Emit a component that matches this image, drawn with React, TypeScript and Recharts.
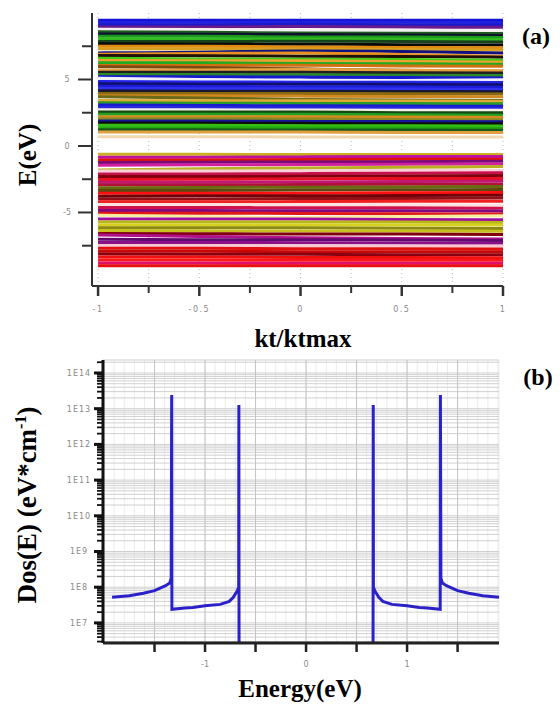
import React from 'react';
import { LineChart, Line, XAxis, YAxis, CartesianGrid, ReferenceLine } from 'recharts';

// ---- panel (a): band structure ----
const kPoints = [-1, -0.5, 0, 0.5, 1];
const kTicks = [-1, -0.75, -0.5, -0.25, 0, 0.25, 0.5, 0.75, 1];
const energyTicks = [-7.5, -5, -2.5, 0, 2.5, 5, 7.5];

// energies (eV) at kPoints, top to bottom
const conductionBands: number[][] = [
  [9.45, 9.45, 9.45, 9.45, 9.45],
  [9.28, 9.3, 9.3, 9.3, 9.28],
  [9.12, 9.12, 9.15, 9.12, 9.1],
  [8.95, 8.95, 8.98, 8.95, 8.92],
  [8.78, 8.75, 8.72, 8.7, 8.65],
  [8.6, 8.55, 8.5, 8.48, 8.45],
  [8.42, 8.4, 8.38, 8.35, 8.3],
  [8.25, 8.25, 8.2, 8.2, 8.15],
  [8.05, 8.05, 8.05, 8.02, 8.0],
  [7.85, 7.85, 7.88, 7.85, 7.82],
  [7.68, 7.65, 7.65, 7.62, 7.6],
  [7.5, 7.5, 7.45, 7.4, 7.38],
  [7.32, 7.3, 7.3, 7.25, 7.22],
  [7.0, 7.05, 7.15, 7.1, 7.0],
  [6.9, 6.95, 7.0, 6.88, 6.75],
  [6.8, 6.78, 6.75, 6.72, 6.68],
  [6.6, 6.55, 6.52, 6.5, 6.45],
  [6.42, 6.4, 6.4, 6.35, 6.3],
  [6.25, 6.25, 6.2, 6.18, 6.15],
  [6.05, 6.05, 6.08, 6.02, 6.0],
  [5.95, 5.9, 5.8, 5.7, 5.62],
  [5.7, 5.72, 5.75, 5.7, 5.65],
  [5.55, 5.55, 5.55, 5.5, 5.48],
  [5.38, 5.38, 5.35, 5.32, 5.3],
  [5.2, 5.2, 5.18, 5.15, 5.12],
  [5.1, 5.0, 4.9, 4.92, 4.98],
  [4.85, 4.82, 4.8, 4.8, 4.78],
  [4.68, 4.65, 4.65, 4.62, 4.6],
  [4.5, 4.48, 4.45, 4.45, 4.42],
  [4.32, 4.3, 4.3, 4.28, 4.25],
  [4.15, 4.12, 4.12, 4.1, 4.08],
  [3.95, 3.95, 3.95, 3.92, 3.9],
  [3.78, 3.78, 3.75, 3.72, 3.7],
  [3.7, 3.6, 3.5, 3.45, 3.42],
  [3.42, 3.4, 3.4, 3.38, 3.35],
  [3.25, 3.22, 3.2, 3.2, 3.18],
  [3.08, 3.05, 3.02, 3.0, 2.98],
  [2.9, 2.88, 2.85, 2.85, 2.82],
  [2.72, 2.72, 2.7, 2.68, 2.68],
  [2.55, 2.55, 2.55, 2.5, 2.5],
  [2.38, 2.38, 2.38, 2.35, 2.32],
  [2.2, 2.2, 2.2, 2.18, 2.15],
  [2.05, 2.05, 2.03, 2.0, 1.98],
  [1.88, 1.88, 1.85, 1.85, 1.82],
  [1.72, 1.72, 1.7, 1.68, 1.68],
  [1.55, 1.55, 1.52, 1.52, 1.5],
  [1.38, 1.38, 1.35, 1.35, 1.32],
  [1.22, 1.22, 1.2, 1.2, 1.18],
  [1.05, 1.05, 1.05, 1.02, 1.02],
  [0.7, 0.7, 0.68, 0.68, 0.68],
];
const conductionColors = [
  '#1414d8', '#2020e0', '#1a1acc', '#6a1a8a', '#f4f0f0', '#1f5a20', '#101030', '#1a9a1a',
  '#33bb22', '#16441a', '#0a0a0a', '#e08a10', '#d8a020', '#101080', '#e89020', '#201008',
  '#44cc11', '#f0a030', '#22aa22', '#d07010', '#7a4a10', '#e8a040', '#202020', '#2a8a2a',
  '#1818d0', '#f0f0ff', '#2222e8', '#10106a', '#1c1cd8', '#3030f0', '#181830', '#8a6a10',
  '#d08820', '#6a6a18', '#e0a830', '#2a9a2a', '#1a1ad0', '#2828e0', '#f8f0e8', '#124a12',
  '#22a022', '#d88a20', '#8a8a20', '#14149a', '#0c0c0c', '#33c010', '#22aa11', '#1a5a1a',
  '#e0a040', '#f2d8b0',
];

const valenceBands: number[][] = [
  [-0.62, -0.62, -0.65, -0.65, -0.65],
  [-0.85, -0.85, -0.82, -0.8, -0.8],
  [-1.05, -1.05, -1.02, -1.0, -1.0],
  [-1.25, -1.22, -1.2, -1.18, -1.15],
  [-1.45, -1.42, -1.4, -1.38, -1.35],
  [-1.8, -1.72, -1.65, -1.6, -1.55],
  [-1.88, -1.88, -1.88, -1.85, -1.85],
  [-2.1, -2.1, -2.08, -2.05, -2.02],
  [-2.3, -2.3, -2.28, -2.25, -2.22],
  [-2.52, -2.5, -2.48, -2.45, -2.45],
  [-2.72, -2.72, -2.7, -2.68, -2.65],
  [-2.92, -2.92, -2.9, -2.88, -2.88],
  [-3.15, -3.12, -3.1, -3.08, -3.05],
  [-3.35, -3.35, -3.32, -3.3, -3.28],
  [-3.55, -3.55, -3.55, -3.52, -3.5],
  [-3.78, -3.75, -3.75, -3.72, -3.7],
  [-3.98, -3.98, -3.95, -3.95, -3.92],
  [-4.2, -4.2, -4.18, -4.15, -4.15],
  [-4.4, -4.4, -4.42, -4.42, -4.45],
  [-4.62, -4.62, -4.65, -4.65, -4.68],
  [-4.85, -4.85, -4.88, -4.88, -4.9],
  [-5.05, -5.05, -5.08, -5.1, -5.12],
  [-5.2, -5.3, -5.38, -5.3, -5.25],
  [-5.5, -5.5, -5.5, -5.52, -5.55],
  [-5.72, -5.72, -5.72, -5.72, -5.75],
  [-5.95, -5.95, -5.95, -5.95, -5.95],
  [-6.15, -6.15, -6.15, -6.18, -6.2],
  [-6.35, -6.38, -6.4, -6.4, -6.42],
  [-6.58, -6.6, -6.62, -6.62, -6.65],
  [-6.7, -6.8, -6.9, -6.95, -7.0],
  [-7.02, -7.05, -7.05, -7.08, -7.1],
  [-7.25, -7.25, -7.28, -7.3, -7.32],
  [-7.48, -7.48, -7.5, -7.52, -7.52],
  [-7.7, -7.7, -7.72, -7.72, -7.75],
  [-7.92, -7.92, -7.95, -7.95, -7.95],
  [-8.12, -8.15, -8.15, -8.18, -8.18],
  [-8.35, -8.35, -8.38, -8.38, -8.4],
  [-8.58, -8.58, -8.6, -8.6, -8.6],
  [-8.8, -8.8, -8.82, -8.82, -8.82],
  [-9.0, -9.0, -9.0, -9.0, -9.0],
];
const valenceColors = [
  '#c8b020', '#c010a0', '#e01010', '#7a0a7a', '#d020a0', '#b8b020', '#f8d0d8', '#c8104a',
  '#800010', '#e81020', '#c01878', '#b0103a', '#6a6a10', '#5a4a10', '#ff1010', '#700008',
  '#901018', '#f02020', '#fce0e0', '#d0104a', '#800880', '#e01818', '#f4f0a0', '#a010a0',
  '#b8b818', '#d8d020', '#8a8a10', '#c8c020', '#800010', '#b0108a', '#600a70', '#8a108a',
  '#f8c8d0', '#e01010', '#c80808', '#8a0010', '#f01010', '#ff1818', '#e0106a', '#e81010',
];

// ---- panel (b): density of states ----
const dosEnergy = [
  -1.92, -1.75, -1.61, -1.5, -1.45, -1.39, -1.35, -1.335, -1.33, -1.328,
  -1.2, -1.12, -1.0, -0.85, -0.76, -0.72, -0.68, -0.667, -0.665, -0.663,
  0.663, 0.665, 0.667, 0.68, 0.72, 0.76, 0.85, 1.0, 1.12, 1.2,
  1.328, 1.33, 1.335, 1.35, 1.39, 1.45, 1.5, 1.61, 1.75, 1.91,
];
const dosValue = [
  5.2e7, 5.8e7, 6.8e7, 8.0e7, 9.3e7, 1.1e8, 1.3e8, 1.8e8, 2.4e13, 2.4e7,
  2.6e7, 2.7e7, 3.0e7, 3.3e7, 4.0e7, 5.2e7, 8.0e7, 1.0e8, 1.26e13, 1e5,
  1e5, 1.26e13, 1.0e8, 8.0e7, 5.2e7, 4.0e7, 3.3e7, 3.0e7, 2.7e7, 2.6e7,
  2.4e7, 2.4e13, 1.8e8, 1.3e8, 1.1e8, 9.3e7, 8.0e7, 6.8e7, 5.8e7, 5.2e7,
];
const dosDecades = [6, 7, 8, 9, 10, 11, 12, 13, 14];
const dosDomain = [2.735e6, 2.31e14];
const dosMajorEnergy = [-1.5, -1, -0.5, 0, 0.5, 1, 1.5];
const dosEnergyLabels = [-1, 0, 1];

const bandRows = kPoints.map((k, i) => {
  const row: Record<string, number> = { k };
  conductionBands.forEach((b, j) => (row['c' + j] = b[i]));
  valenceBands.forEach((b, j) => (row['v' + j] = b[i]));
  return row;
});

const dosRows = dosEnergy.map((e, i) => ({ e, dos: dosValue[i] }));

const dosYTicks: number[] = [];
dosDecades.forEach((d) => {
  for (let m = 1; m <= 9; m++) {
    const v = m * Math.pow(10, d);
    if (v >= dosDomain[0] && v <= dosDomain[1]) dosYTicks.push(v);
  }
});
const dosXTicks = Array.from({ length: 40 }, (_, i) => Math.round((-2 + i * 0.1) * 10) / 10);

// axis geometry (px inside each chart svg)
const A_LEFT = 92;
const A_BOTTOM = 286;
const B_LEFT = 103;
const B_BOTTOM = 303;

const SERIF = '"Liberation Serif", Tinos, "Times New Roman", Times, serif';
const tickFont = { fontFamily: 'DejaVu Sans, sans-serif', fontSize: 8, fill: '#8a8a8a' };

const BandYTick = (p: any) => {
  const v = p.payload.value;
  const major = v % 5 === 0;
  return (
    <g>
      <line x1={A_LEFT - (major ? 14 : 10)} x2={A_LEFT} y1={p.y} y2={p.y} stroke="#333" strokeWidth={2} />
      {major && (
        <text x={A_LEFT - 25} y={p.y + 3} textAnchor="middle" {...tickFont}>
          {String(v)}
        </text>
      )}
    </g>
  );
};

const BandXTick = (p: any) => {
  const v = p.payload.value;
  const major = Math.abs(v * 2 - Math.round(v * 2)) < 1e-9;
  return (
    <g>
      <line x1={p.x} x2={p.x} y1={A_BOTTOM} y2={A_BOTTOM + (major ? 10 : 7)} stroke="#333" strokeWidth={major ? 2.5 : 2} />
      {major && (
        <text x={p.x} y={A_BOTTOM + 26} textAnchor="middle" letterSpacing={1.5} {...tickFont}>
          {String(v)}
        </text>
      )}
    </g>
  );
};

const DosYTick = (p: any) => {
  const v = p.payload.value;
  const lg = Math.log10(v);
  const major = Math.abs(lg - Math.round(lg)) < 1e-6;
  return (
    <g>
      <line x1={B_LEFT - (major ? 9 : 6)} x2={B_LEFT} y1={p.y} y2={p.y} stroke="#111" strokeWidth={major ? 3 : 1.8} />
      {major && (
        <text x={B_LEFT - 24} y={p.y + 3} textAnchor="middle" letterSpacing={1} {...tickFont}>
          {'1E' + Math.round(lg)}
        </text>
      )}
    </g>
  );
};

const DosXTick = (p: any) => {
  const v = p.payload.value;
  const major = dosMajorEnergy.some((m) => Math.abs(m - v) < 1e-6);
  const labelled = dosEnergyLabels.some((m) => Math.abs(m - v) < 1e-6);
  if (!major) return <g />;
  return (
    <g>
      <line x1={p.x} x2={p.x} y1={B_BOTTOM} y2={B_BOTTOM + 9} stroke="#222" strokeWidth={2.5} />
      {labelled && (
        <text x={p.x} y={B_BOTTOM + 24} textAnchor="middle" {...tickFont}>
          {String(v)}
        </text>
      )}
    </g>
  );
};

const Title = ({ x, y, size, rotate, children }: any) => (
  <div
    style={{
      position: 'absolute',
      left: x,
      top: y,
      transform: `translate(-50%, -50%)${rotate ? ' rotate(-90deg)' : ''}`,
      fontFamily: SERIF,
      fontWeight: 'bold',
      fontSize: size,
      whiteSpace: 'nowrap',
      color: '#000',
      lineHeight: 1,
    }}
  >
    {children}
  </div>
);

export default function App() {
  return (
    <div style={{ position: 'absolute', left: 0, top: 0, width: 560, height: 704, background: '#fff', overflow: 'hidden' }}>
      <div style={{ position: 'absolute', left: 0, top: 0 }}>
        <LineChart width={560} height={330} data={bandRows} margin={{ top: 13, right: 57, bottom: 0, left: 0 }}>
          <CartesianGrid horizontal={false} stroke="#b8b8b8" strokeDasharray="1 3" />
          <XAxis
            dataKey="k"
            type="number"
            domain={[-1.03, 1]}
            ticks={kTicks}
            interval={0}
            tickLine={false}
            axisLine={{ stroke: '#333', strokeWidth: 2 }}
            tick={<BandXTick />}
            height={44}
          />
          <YAxis
            type="number"
            domain={[-10.53, 10]}
            ticks={energyTicks}
            interval={0}
            tickLine={false}
            axisLine={{ stroke: '#333', strokeWidth: 2 }}
            tick={<BandYTick />}
            width={92}
          />
          {conductionBands.map((_, j) => (
            <Line
              key={'c' + j}
              dataKey={'c' + j}
              type="monotone"
              stroke={conductionColors[j]}
              strokeWidth={3}
              dot={false}
              isAnimationActive={false}
            />
          ))}
          {valenceBands.map((_, j) => (
            <Line
              key={'v' + j}
              dataKey={'v' + j}
              type="monotone"
              stroke={valenceColors[j]}
              strokeWidth={3}
              dot={false}
              isAnimationActive={false}
            />
          ))}
        </LineChart>
      </div>

      <div style={{ position: 'absolute', left: 0, top: 340 }}>
        <LineChart width={560} height={340} data={dosRows} margin={{ top: 20, right: 61, bottom: 0, left: 0 }}>
          <CartesianGrid horizontal={false} stroke="#ececec" />
          <CartesianGrid vertical={false} stroke="#d0d0d0" />
          {dosMajorEnergy.map((m) => (
            <ReferenceLine key={m} x={m} stroke="#c4c4c4" strokeWidth={1} />
          ))}
          <XAxis
            dataKey="e"
            type="number"
            domain={[-2.01, 1.91]}
            ticks={dosXTicks}
            interval={0}
            tickLine={false}
            axisLine={{ stroke: '#222', strokeWidth: 3 }}
            tick={<DosXTick />}
            height={37}
          />
          <YAxis
            type="number"
            scale="log"
            domain={dosDomain}
            allowDataOverflow
            ticks={dosYTicks}
            interval={0}
            tickLine={false}
            axisLine={{ stroke: '#111', strokeWidth: 3 }}
            tick={<DosYTick />}
            width={103}
          />
          <Line
            dataKey="dos"
            type="linear"
            stroke="#2a22c8"
            strokeWidth={3}
            dot={false}
            isAnimationActive={false}
          />
        </LineChart>
      </div>

      <Title x={536} y={36} size={24}>(a)</Title>
      <Title x={538} y={377} size={24}>(b)</Title>
      <Title x={27} y={155} size={25} rotate>E(eV)</Title>
      <Title x={303} y={338} size={25}>kt/ktmax</Title>
      <Title x={27} y={505} size={27} rotate>
        Dos(E) (eV*cm<sup style={{ fontSize: '0.6em' }}>-1</sup>)
      </Title>
      <Title x={300} y={688} size={25}>Energy(eV)</Title>
    </div>
  );
}
